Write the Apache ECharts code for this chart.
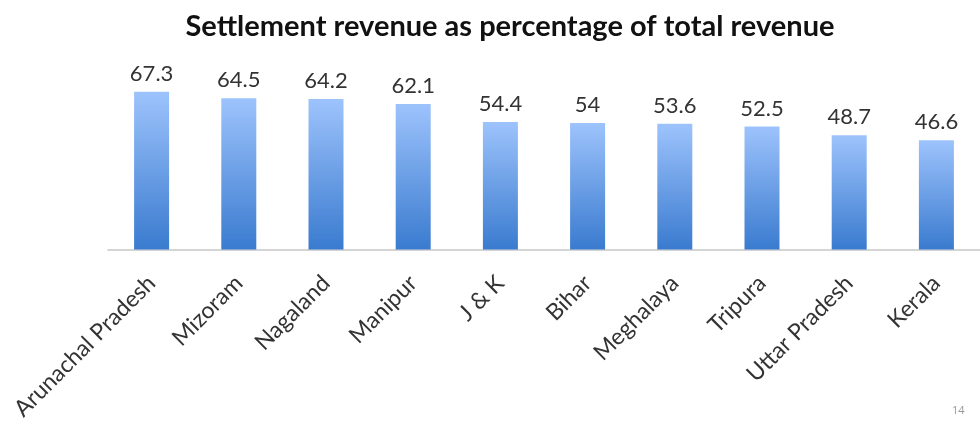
<!DOCTYPE html>
<html>
<head>
<meta charset="utf-8">
<script src="https://cdn.jsdelivr.net/npm/echarts@6/dist/echarts.min.js"></script>
<style>
  html, body { margin: 0; padding: 0; background: #fff; }
  #chart { width: 980px; height: 423px; }
</style>
</head>
<body>
<div id="chart"></div>
<script>
const TEXT = "#333333";
const BAR_TOP = "#9dc3fc";
const BAR_BOTTOM = "#3a7bcf";

const states = [
  "Arunachal Pradesh", "Mizoram", "Nagaland", "Manipur", "J & K",
  "Bihar", "Meghalaya", "Tripura", "Uttar Pradesh", "Kerala",
];
const settlementShare = [67.3, 64.5, 64.2, 62.1, 54.4, 54, 53.6, 52.5, 48.7, 46.6];

const chart = echarts.init(document.getElementById("chart"), undefined, { renderer: "canvas" });
chart.setOption({
  animation: false,
  title: {
    text: "Settlement revenue as percentage of total revenue",
    left: 505,
    textAlign: "center",
    top: 7,
    textStyle: { fontFamily: "Lato", fontWeight: "bold", fontSize: 29, color: "#111" },
  },
  grid: { left: 108, width: 883, top: 62, bottom: 170, containLabel: false },
  xAxis: {
    type: "category",
    data: states,
    axisLine: { lineStyle: { color: "#c8c8c8", width: 1.5 } },
    axisTick: { show: false },
    axisLabel: {
      rotate: 45,
      interval: 0,
      margin: 30,
      color: TEXT,
      fontFamily: "Lato",
      fontSize: 23,
    },
  },
  yAxis: { type: "value", min: 0, max: 80, show: false },
  series: [
    {
      type: "bar",
      data: settlementShare,
      barWidth: 35,
      itemStyle: {
        color: {
          type: "linear", x: 0, y: 0, x2: 0, y2: 1,
          colorStops: [{ offset: 0, color: BAR_TOP }, { offset: 1, color: BAR_BOTTOM }],
        },
      },
      label: {
        show: true,
        position: "top",
        distance: 7,
        color: TEXT,
        fontFamily: "Lato",
        fontSize: 22,
      },
    },
  ],
  graphic: [
    {
      type: "text",
      left: 952,
      top: 405,
      style: { text: "14", fill: "#999", fontFamily: "Open Sans", fontSize: 11 },
    },
  ],
});
</script>
</body>
</html>
